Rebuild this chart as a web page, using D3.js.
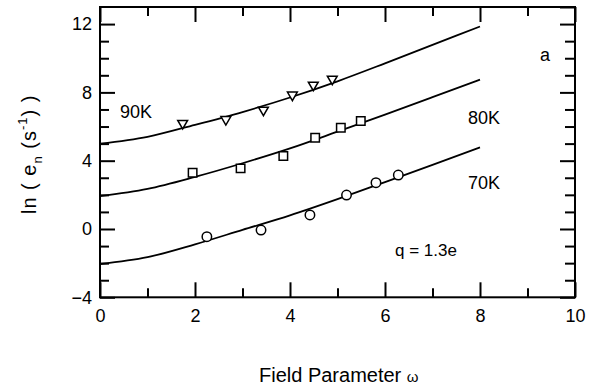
<!DOCTYPE html>
<html>
<head>
<meta charset="utf-8">
<script src="https://cdn.jsdelivr.net/npm/d3@7"></script>
<style>
  html, body { margin: 0; padding: 0; background: #fff; }
  svg { display: block; }
  text { font-family: "Liberation Sans", Arial, Helvetica, sans-serif; fill: #000; }
</style>
</head>
<body>
<svg id="chart" width="597" height="390"></svg>
<script>
// Measured emission rates (ln e_n) vs field parameter ω at three temperatures
const omega90 = [1.74, 2.65, 3.44, 4.05, 4.49, 4.89];
const lnE90   = [6.19, 6.42, 6.97, 7.85, 8.43, 8.78];
const omega80 = [1.95, 2.96, 3.86, 4.53, 5.07, 5.49];
const lnE80   = [3.30, 3.55, 4.27, 5.35, 5.93, 6.32];
const omega70 = [2.25, 3.39, 4.42, 5.19, 5.81, 6.28];
const lnE70   = [-0.45, -0.06, 0.82, 1.99, 2.71, 3.16];

// Model curves, sampled at integer ω
const fitOmega = [0, 1, 2, 3, 4, 5, 6, 7, 8];
const fit90 = [5.00, 5.40, 6.10, 6.85, 7.70, 8.65, 9.70, 10.78, 11.86];
const fit80 = [1.93, 2.35, 3.05, 3.85, 4.72, 5.70, 6.70, 7.72, 8.75];
const fit70 = [-2.05, -1.65, -0.90, -0.05, 0.80, 1.75, 2.75, 3.76, 4.78];

// Axis ticks
const xMajor = [0, 2, 4, 6, 8, 10];
const xMinor = [1, 3, 5, 7, 9];
const yMajor = [-4, 0, 4, 8, 12];
const yMinor = [-3, -2, -1, 1, 2, 3, 5, 6, 7, 9, 10, 11];

const svg = d3.select("#chart");
const x = d3.scaleLinear().domain([0, 10]).range([100, 575]);
const y = d3.scaleLinear().domain([-4, 13]).range([297.3, 7]);

const FONT = 18;

// Axes: majors with labels, minors unlabeled, all ticks pointing inward
function styleAxis(g) {
  g.select(".domain").remove();
  g.selectAll(".tick line").attr("stroke", "#000").attr("stroke-width", 2);
  g.selectAll(".tick text").style("font-size", FONT + "px")
    .style("font-family", '"Liberation Sans", Arial, sans-serif').attr("fill", "#000");
}

svg.append("g").attr("transform", `translate(0,${y(-4)})`)
  .call(d3.axisBottom(x).tickValues(xMajor).tickSizeInner(-15).tickSizeOuter(0).tickPadding(12).tickFormat(d3.format("d")))
  .call(styleAxis);
svg.append("g").attr("transform", `translate(0,${y(-4)})`)
  .call(d3.axisBottom(x).tickValues(xMinor).tickSizeInner(-9).tickSizeOuter(0).tickFormat(""))
  .call(styleAxis);
svg.append("g").attr("transform", `translate(0,${y(13)})`)
  .call(d3.axisTop(x).tickValues(xMajor).tickSizeInner(-15).tickSizeOuter(0).tickFormat(""))
  .call(styleAxis);
svg.append("g").attr("transform", `translate(0,${y(13)})`)
  .call(d3.axisTop(x).tickValues(xMinor).tickSizeInner(-9).tickSizeOuter(0).tickFormat(""))
  .call(styleAxis);

svg.append("g").attr("transform", `translate(${x(0)},0)`)
  .call(d3.axisLeft(y).tickValues(yMajor).tickSizeInner(-15).tickSizeOuter(0).tickPadding(8).tickFormat(d3.format("d")))
  .call(styleAxis);
svg.append("g").attr("transform", `translate(${x(0)},0)`)
  .call(d3.axisLeft(y).tickValues(yMinor).tickSizeInner(-9).tickSizeOuter(0).tickFormat(""))
  .call(styleAxis);
svg.append("g").attr("transform", `translate(${x(10)},0)`)
  .call(d3.axisRight(y).tickValues(yMajor.concat([13])).tickSizeInner(-15).tickSizeOuter(0).tickFormat(""))
  .call(styleAxis);
svg.append("g").attr("transform", `translate(${x(10)},0)`)
  .call(d3.axisRight(y).tickValues(yMinor).tickSizeInner(-10).tickSizeOuter(0).tickFormat(""))
  .call(styleAxis);

// Plot frame
svg.append("rect")
  .attr("x", x(0)).attr("y", y(13))
  .attr("width", x(10) - x(0)).attr("height", y(-4) - y(13))
  .attr("fill", "none").attr("stroke", "#000").attr("stroke-width", 2);

// Model curves
const line = d3.line().x(d => x(d[0])).y(d => y(d[1])).curve(d3.curveMonotoneX);
[fit90, fit80, fit70].forEach(vals => {
  svg.append("path")
    .datum(fitOmega.map((w, i) => [w, vals[i]]))
    .attr("d", line)
    .attr("fill", "none").attr("stroke", "#000").attr("stroke-width", 1.8);
});

// Data markers
function drawMarkers(ws, vs, type, size, rot) {
  const sym = d3.symbol().type(type).size(size);
  svg.append("g").selectAll("path")
    .data(ws.map((w, i) => [w, vs[i]]))
    .join("path")
    .attr("d", sym)
    .attr("transform", d => `translate(${x(d[0])},${y(d[1])}) rotate(${rot})`)
    .attr("fill", "#fff").attr("stroke", "#000").attr("stroke-width", 1.5);
}
drawMarkers(omega90, lnE90, d3.symbolTriangle, 42, 180);
drawMarkers(omega80, lnE80, d3.symbolSquare, 72, 0);
drawMarkers(omega70, lnE70, d3.symbolCircle, 70, 0);

// Series and panel annotations
const ann = [
  { t: "90K", px: 120, py: 118, fs: 18 },
  { t: "80K", px: 468, py: 124, fs: 18 },
  { t: "70K", px: 468, py: 189, fs: 18 },
  { t: "a",   px: 540, py: 61,  fs: 18 },
  { t: "q = 1.3e", px: 395, py: 256, fs: 17 }
];
svg.append("g").selectAll("text").data(ann).join("text")
  .attr("x", d => d.px).attr("y", d => d.py)
  .style("font-size", d => d.fs + "px")
  .text(d => d.t);

// X axis title
const xt = svg.append("text").attr("x", 259).attr("y", 382).style("font-size", "20px");
xt.append("tspan").text("Field Parameter ");
xt.append("tspan").style("font-size", "15px").text("ω");

// Y axis title
const yt = svg.append("text")
  .attr("transform", "translate(36,214) rotate(-90)")
  .style("font-size", "20px")
  .style("letter-spacing", "1px");
yt.append("tspan").text("ln ( e");
yt.append("tspan").attr("dy", 6).style("font-size", "13px").text("n");
yt.append("tspan").attr("dy", -6).text(" (s");
yt.append("tspan").attr("dy", -9).style("font-size", "13px").text("-1");
yt.append("tspan").attr("dy", 9).text(") )");
</script>
</body>
</html>
